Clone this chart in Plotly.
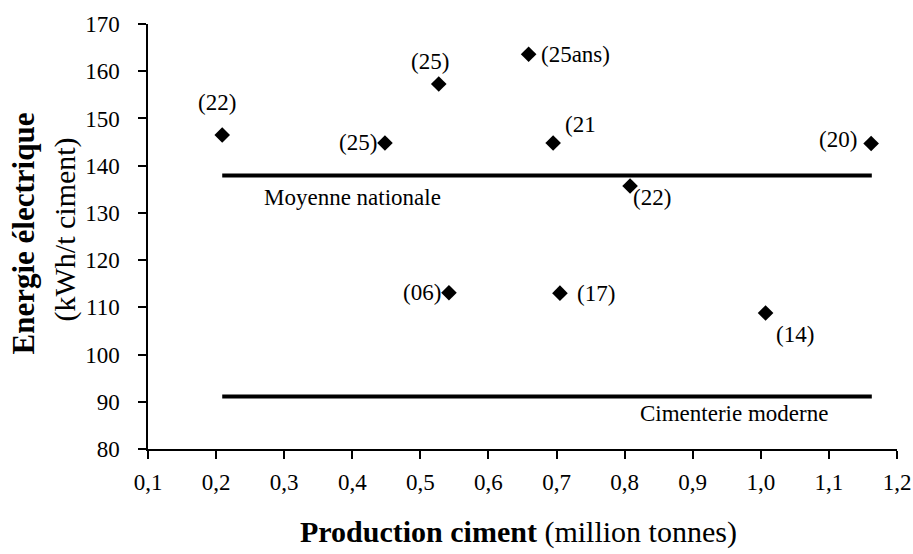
import plotly.graph_objects as go

# usines : production (Mt), energie electrique (kWh/t), etiquette (age)
production = [0.209, 0.448, 0.527, 0.659, 0.695, 1.162, 0.808, 0.542, 0.705, 1.007]
energie = [146.5, 144.8, 157.3, 163.6, 144.8, 144.7, 135.7, 113.1, 113.0, 108.8]
etiquettes = ["(22)", "(25)", "(25)", "(25ans)", "(21", "(20)", "(22)", "(06)", "(17)", "(14)"]

# references
ref_x = [0.209, 1.163]
moyenne_nationale = 137.9
cimenterie_moderne = 91.1

# placement des etiquettes en pixels : (xanchor, xshift, yshift)
placement = [
    ("center", -5, 32),
    ("right", -6, 1),
    ("center", -9, 22),
    ("left", 10, 0),
    ("left", 10, 19),
    ("right", -12, 4),
    ("left", 1, -12),
    ("right", -6, 0),
    ("left", 15, 0),
    ("left", 8, -21),
]

police = "Liberation Serif"

fig = go.Figure()

for y_ref in [moyenne_nationale, cimenterie_moderne]:
    fig.add_trace(
        go.Scatter(
            x=ref_x,
            y=[y_ref, y_ref],
            mode="lines",
            line=dict(color="black", width=4),
            showlegend=False,
            hoverinfo="skip",
        )
    )

fig.add_trace(
    go.Scatter(
        x=production,
        y=energie,
        mode="markers",
        marker=dict(symbol="diamond", size=12, color="black"),
        showlegend=False,
    )
)

for xv, yv, txt, (xa, dx, dy) in zip(production, energie, etiquettes, placement):
    fig.add_annotation(
        x=xv, y=yv, text=txt, showarrow=False,
        xanchor=xa, yanchor="middle", xshift=dx, yshift=dy,
        font=dict(family=police, size=23, color="black"),
    )

fig.add_annotation(
    x=ref_x[0], y=moyenne_nationale, text="Moyenne nationale", showarrow=False,
    xanchor="left", yanchor="middle", xshift=40, yshift=-22,
    font=dict(family=police, size=23, color="black"),
)
fig.add_annotation(
    x=ref_x[1], y=cimenterie_moderne, text="Cimenterie moderne", showarrow=False,
    xanchor="right", yanchor="middle", xshift=-42, yshift=-17,
    font=dict(family=police, size=23, color="black"),
)

# titres des axes
fig.add_annotation(
    xref="paper", yref="paper", x=0, y=0.5, textangle=-90,
    text="<b>Energie électrique</b>", showarrow=False,
    xanchor="center", yanchor="middle", xshift=-125, yshift=3,
    font=dict(family=police, size=31, color="black"),
)
fig.add_annotation(
    xref="paper", yref="paper", x=0, y=0.5, textangle=-90,
    text="(kWh/t ciment)", showarrow=False,
    xanchor="center", yanchor="middle", xshift=-84, yshift=7,
    font=dict(family=police, size=30, color="black"),
)
fig.add_annotation(
    xref="paper", yref="paper", x=0.5, y=0,
    text="<b>Production ciment</b> (million tonnes)", showarrow=False,
    xanchor="center", yanchor="middle", xshift=-4, yshift=-83,
    font=dict(family=police, size=30, color="black"),
)

fig.update_layout(
    width=913,
    height=554,
    autosize=False,
    margin=dict(l=148, r=16, t=24, b=105),
    plot_bgcolor="white",
    paper_bgcolor="white",
    separators=", ",
    font=dict(family=police, size=23, color="black"),
    xaxis=dict(
        range=[0.1, 1.2],
        dtick=0.1,
        tick0=0.1,
        tickformat=".1f",
        showgrid=False,
        zeroline=False,
        showline=True,
        linecolor="black",
        linewidth=1.5,
        ticks="outside",
        ticklen=8,
        tickwidth=1.5,
        tickcolor="black",
        ticklabelstandoff=4,
        tickfont=dict(family=police, size=23, color="black"),
        automargin=False,
    ),
    yaxis=dict(
        range=[80, 170],
        dtick=10,
        showgrid=False,
        zeroline=False,
        showline=True,
        linecolor="black",
        linewidth=1.5,
        ticks="outside",
        ticklen=8,
        tickwidth=1.5,
        tickcolor="black",
        ticklabelstandoff=14,
        tickfont=dict(family=police, size=23, color="black"),
        automargin=False,
    ),
)

# pas de marge autour du graphique dans la page
fig.write_html(
    "out.html",
    config={"displayModeBar": False, "responsive": False},
    post_script="document.body.style.margin = '0'; document.body.style.overflow = 'hidden';",
)
